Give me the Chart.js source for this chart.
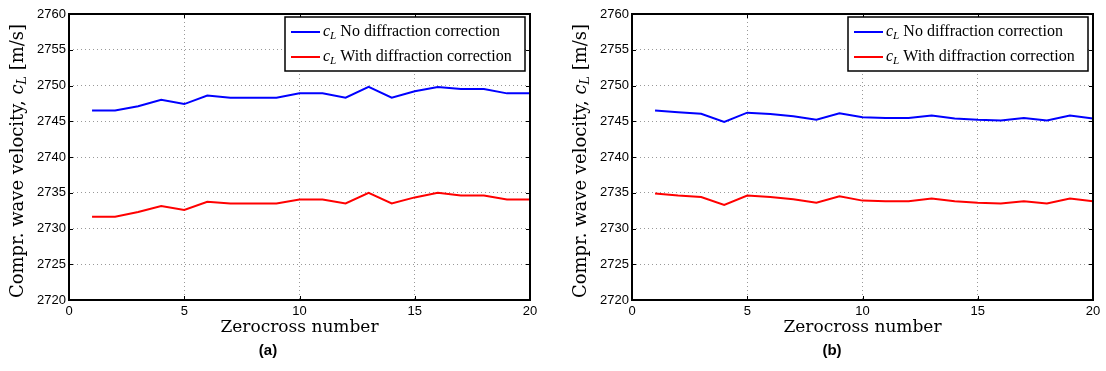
<!DOCTYPE html>
<html>
<head>
<meta charset="utf-8">
<script src="https://cdn.jsdelivr.net/npm/chart.js@4.4.0/dist/chart.umd.min.js"></script>
<style>
  body { margin: 0; background: #fff; width: 1106px; height: 371px; overflow: hidden; position: relative; }
  .panel { position: absolute; top: 0; width: 553px; height: 371px; }
  .cap { position: absolute; top: 341px; width: 60px; text-align: center; font: bold 15px "Liberation Sans", Arial, sans-serif; color: #000; }
</style>
</head>
<body>
<div class="panel" style="left:0"><canvas id="chartA" width="553" height="371"></canvas></div>
<div class="panel" style="left:553px"><canvas id="chartB" width="553" height="371"></canvas></div>
<div class="cap" style="left:238px">(a)</div>
<div class="cap" style="left:802px">(b)</div>
<script>
// zerocross index
const zerocross = [1, 2, 3, 4, 5, 6, 7, 8, 9, 10, 11, 12, 13, 14, 15, 16, 17, 18, 19, 20];

// panel (a)
const noCorrA = [2746.5, 2746.5, 2747.1, 2748.0, 2747.4, 2748.6, 2748.3, 2748.3, 2748.3, 2748.9,
                 2748.9, 2748.3, 2749.8, 2748.3, 2749.2, 2749.8, 2749.5, 2749.5, 2748.9, 2748.9];
const withCorrA = [2731.65, 2731.65, 2732.3, 2733.15, 2732.6, 2733.75, 2733.5, 2733.5, 2733.5, 2734.05,
                   2734.05, 2733.5, 2735.0, 2733.5, 2734.35, 2735.0, 2734.6, 2734.6, 2734.05, 2734.05];

// panel (b)
const noCorrB = [2746.5, 2746.25, 2746.05, 2744.9, 2746.2, 2746.0, 2745.7, 2745.2, 2746.1, 2745.55,
                 2745.45, 2745.45, 2745.8, 2745.4, 2745.2, 2745.1, 2745.45, 2745.1, 2745.8, 2745.4];
const withCorrB = [2734.9, 2734.6, 2734.4, 2733.3, 2734.6, 2734.4, 2734.1, 2733.6, 2734.5, 2733.9,
                   2733.8, 2733.8, 2734.2, 2733.8, 2733.6, 2733.5, 2733.8, 2733.5, 2734.2, 2733.8];

const seriesNames = ['No diffraction correction', 'With diffraction correction'];
const seriesColors = ['#0000ff', '#ff0000'];
const yTicks = [2720, 2725, 2730, 2735, 2740, 2745, 2750, 2755, 2760];
const xTicks = [0, 5, 10, 15, 20];

const serif = '"Liberation Serif", serif';
const titleSerif = '"DejaVu Serif", serif';
const sans = '"Liberation Sans", Arial, sans-serif';

// draw text pieces with italic / subscript parts
function richWidth(ctx, parts, size, fam) {
  let w = 0;
  parts.forEach(p => {
    ctx.font = (p.it ? 'italic ' : '') + (p.sub ? size * 0.7 : size) + 'px ' + fam;
    w += ctx.measureText(p.t).width;
  });
  return w;
}
function richText(ctx, parts, x, y, size, fam) {
  parts.forEach(p => {
    ctx.font = (p.it ? 'italic ' : '') + (p.sub ? size * 0.7 : size) + 'px ' + fam;
    ctx.fillText(p.t, x, p.sub ? y + size * 0.28 : y);
    x += ctx.measureText(p.t).width;
  });
}

const framePlugin = {
  id: 'frame',
  afterDraw(chart) {
    const { ctx, chartArea: a, scales: { x, y } } = chart;
    ctx.save();
    ctx.strokeStyle = '#000';
    ctx.lineWidth = 1;
    ctx.beginPath();
    xTicks.forEach(v => {
      const px = Math.round(x.getPixelForValue(v)) + 0.5;
      ctx.moveTo(px, a.bottom); ctx.lineTo(px, a.bottom - 4);
      ctx.moveTo(px, a.top); ctx.lineTo(px, a.top + 4);
    });
    yTicks.forEach(v => {
      const py = Math.round(y.getPixelForValue(v)) + 0.5;
      ctx.moveTo(a.left, py); ctx.lineTo(a.left + 4, py);
      ctx.moveTo(a.right, py); ctx.lineTo(a.right - 4, py);
    });
    ctx.stroke();
    ctx.lineWidth = 2;
    ctx.strokeRect(a.left, a.top, a.right - a.left, a.bottom - a.top);

    // legend
    const bw = 240, bh = 54;
    const bx = a.right - 5 - bw, by = a.top + 3;
    ctx.fillStyle = '#fff';
    ctx.fillRect(bx, by, bw, bh);
    ctx.lineWidth = 1.5;
    ctx.strokeRect(bx, by, bw, bh);
    ctx.textBaseline = 'middle';
    ctx.textAlign = 'left';
    chart.data.datasets.forEach((ds, i) => {
      const ry = by + 15 + i * 25;
      ctx.strokeStyle = ds.borderColor;
      ctx.lineWidth = 2;
      ctx.beginPath(); ctx.moveTo(bx + 6, ry); ctx.lineTo(bx + 35, ry); ctx.stroke();
      ctx.fillStyle = '#000';
      richText(ctx, [{ t: 'c', it: true }, { t: 'L', it: true, sub: true }, { t: ' ' + ds.label }], bx + 38, ry, 16, serif);
    });

    // axis titles
    ctx.fillStyle = '#000';
    ctx.textBaseline = 'middle';
    ctx.textAlign = 'left';
    const xt = [{ t: 'Zerocross number' }];
    richText(ctx, xt, (a.left + a.right) / 2 - richWidth(ctx, xt, 17, titleSerif) / 2, a.bottom + 28, 17, titleSerif);
    const yt = [{ t: 'Compr. wave velocity, ' }, { t: 'c', it: true }, { t: 'L', it: true, sub: true }, { t: ' [m/s]' }];
    ctx.translate(a.left - 51, (a.top + a.bottom) / 2 + 4);
    ctx.rotate(-Math.PI / 2);
    richText(ctx, yt, -richWidth(ctx, yt, 18, titleSerif) / 2, 0, 18, titleSerif);
    ctx.restore();
  }
};

function makeChart(id, blue, red, padLeft, padRight) {
  const pts = vals => zerocross.map((z, i) => ({ x: z, y: vals[i] }));
  return new Chart(document.getElementById(id), {
    type: 'line',
    data: {
      datasets: [
        { label: seriesNames[0], data: pts(blue), borderColor: seriesColors[0], borderWidth: 2, pointRadius: 0, tension: 0 },
        { label: seriesNames[1], data: pts(red), borderColor: seriesColors[1], borderWidth: 2, pointRadius: 0, tension: 0 }
      ]
    },
    options: {
      responsive: false,
      animation: false,
      layout: { padding: { left: padLeft, right: padRight, top: 14, bottom: 0 } },
      plugins: { legend: { display: false }, tooltip: { enabled: false } },
      scales: {
        x: {
          type: 'linear', min: 0, max: 20,
          afterBuildTicks: s => { s.ticks = xTicks.map(v => ({ value: v })); },
          afterFit: s => { s.height = 71; },
          ticks: { color: '#000', font: { family: sans, size: 13 }, padding: 4, maxRotation: 0, callback: v => String(v) },
          grid: { color: '#999', drawTicks: false, lineWidth: 1 },
          border: { display: false, dash: [1, 3] }
        },
        y: {
          min: 2720, max: 2760,
          afterBuildTicks: s => { s.ticks = yTicks.map(v => ({ value: v })); },
          afterFit: s => { s.width = 69; },
          ticks: { color: '#000', font: { family: sans, size: 13 }, padding: 3, callback: v => String(v) },
          grid: { color: '#999', drawTicks: false, lineWidth: 1 },
          border: { display: false, dash: [1, 3] }
        }
      }
    },
    plugins: [framePlugin]
  });
}

makeChart('chartA', noCorrA, withCorrA, 0, 23);
makeChart('chartB', noCorrB, withCorrB, 10, 13);
</script>
</body>
</html>
